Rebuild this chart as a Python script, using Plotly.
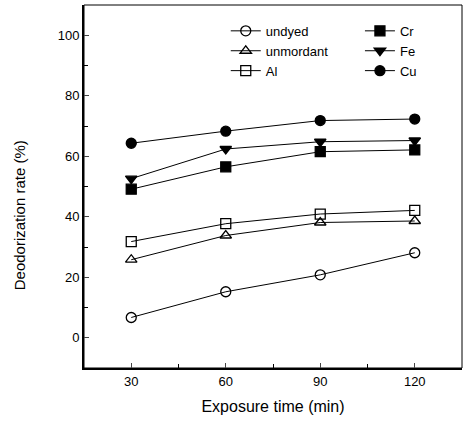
import plotly.graph_objects as go

time_min = [30, 60, 90, 120]
undyed = [6.7, 15.2, 20.8, 28.1]
unmordant = [25.8, 33.8, 38.1, 38.6]
al = [31.8, 37.7, 40.9, 42.1]
cr = [49.1, 56.5, 61.5, 62.1]
fe = [52.6, 62.4, 64.8, 65.2]
cu = [64.3, 68.3, 71.8, 72.3]

series = [
    ("undyed", undyed, "circle-open", "legend"),
    ("unmordant", unmordant, "triangle-up-open", "legend"),
    ("Al", al, "square-open", "legend"),
    ("Cr", cr, "square", "legend2"),
    ("Fe", fe, "triangle-down", "legend2"),
    ("Cu", cu, "circle", "legend2"),
]

FONT = "Liberation Sans, Arial, sans-serif"
fig = go.Figure()
for name, vals, sym, lg in series:
    fig.add_trace(go.Scatter(
        x=time_min, y=vals, name=name, mode="lines+markers",
        line=dict(color="black", width=1),
        marker=dict(symbol=sym, size=10, color="black",
                    line=dict(color="black", width=1.3)),
        legend=lg,
    ))

legend_common = dict(bgcolor="rgba(0,0,0,0)", font=dict(family=FONT, size=13, color="black"),
                     tracegroupgap=0, itemwidth=30, yanchor="top", xanchor="left")
fig.update_layout(
    width=464, height=423,
    margin=dict(l=84, r=2, t=5, b=55),
    paper_bgcolor="white", plot_bgcolor="white",
    font=dict(family=FONT, color="black"),
    legend=dict(x=0.375, y=0.97, **legend_common),
    legend2=dict(x=0.73, y=0.97, **legend_common),
    xaxis=dict(
        range=[15, 135], tickvals=time_min, ticks="inside", ticklen=5,
        tickfont=dict(size=13, family=FONT, color="black"),
        showline=True, linecolor="black", linewidth=2,
        showgrid=False, zeroline=False,
        minor=dict(tickvals=[45, 75, 105], ticks="inside", ticklen=4, tickcolor="black"),
        title=dict(text="Exposure time (min)", font=dict(size=16, family=FONT, color="black"), standoff=13),
    ),
    yaxis=dict(
        range=[-10, 110], tickvals=[0, 20, 40, 60, 80, 100], ticks="inside", ticklen=5,
        tickfont=dict(size=13, family=FONT, color="black"),
        showline=True, linecolor="black", linewidth=2,
        showgrid=False, zeroline=False,
        minor=dict(tickvals=[10, 30, 50, 70, 90], ticks="inside", ticklen=4, tickcolor="black"),
    ),
    shapes=[dict(type="rect", xref="paper", yref="paper", x0=0, y0=0, x1=1, y1=1,
                 line=dict(color="black", width=1), layer="below")],
    showlegend=True,
)
fig.add_annotation(text="Deodorization rate (%)", textangle=-90, xref="paper", yref="paper",
                   x=-0.17, y=0.42, xanchor="center", yanchor="middle", showarrow=False,
                   font=dict(size=15, family=FONT, color="black"))

fig.write_html("out.html", config={"displayModeBar": False},
               post_script="document.body.style.margin='0';document.body.style.overflow='hidden';")
